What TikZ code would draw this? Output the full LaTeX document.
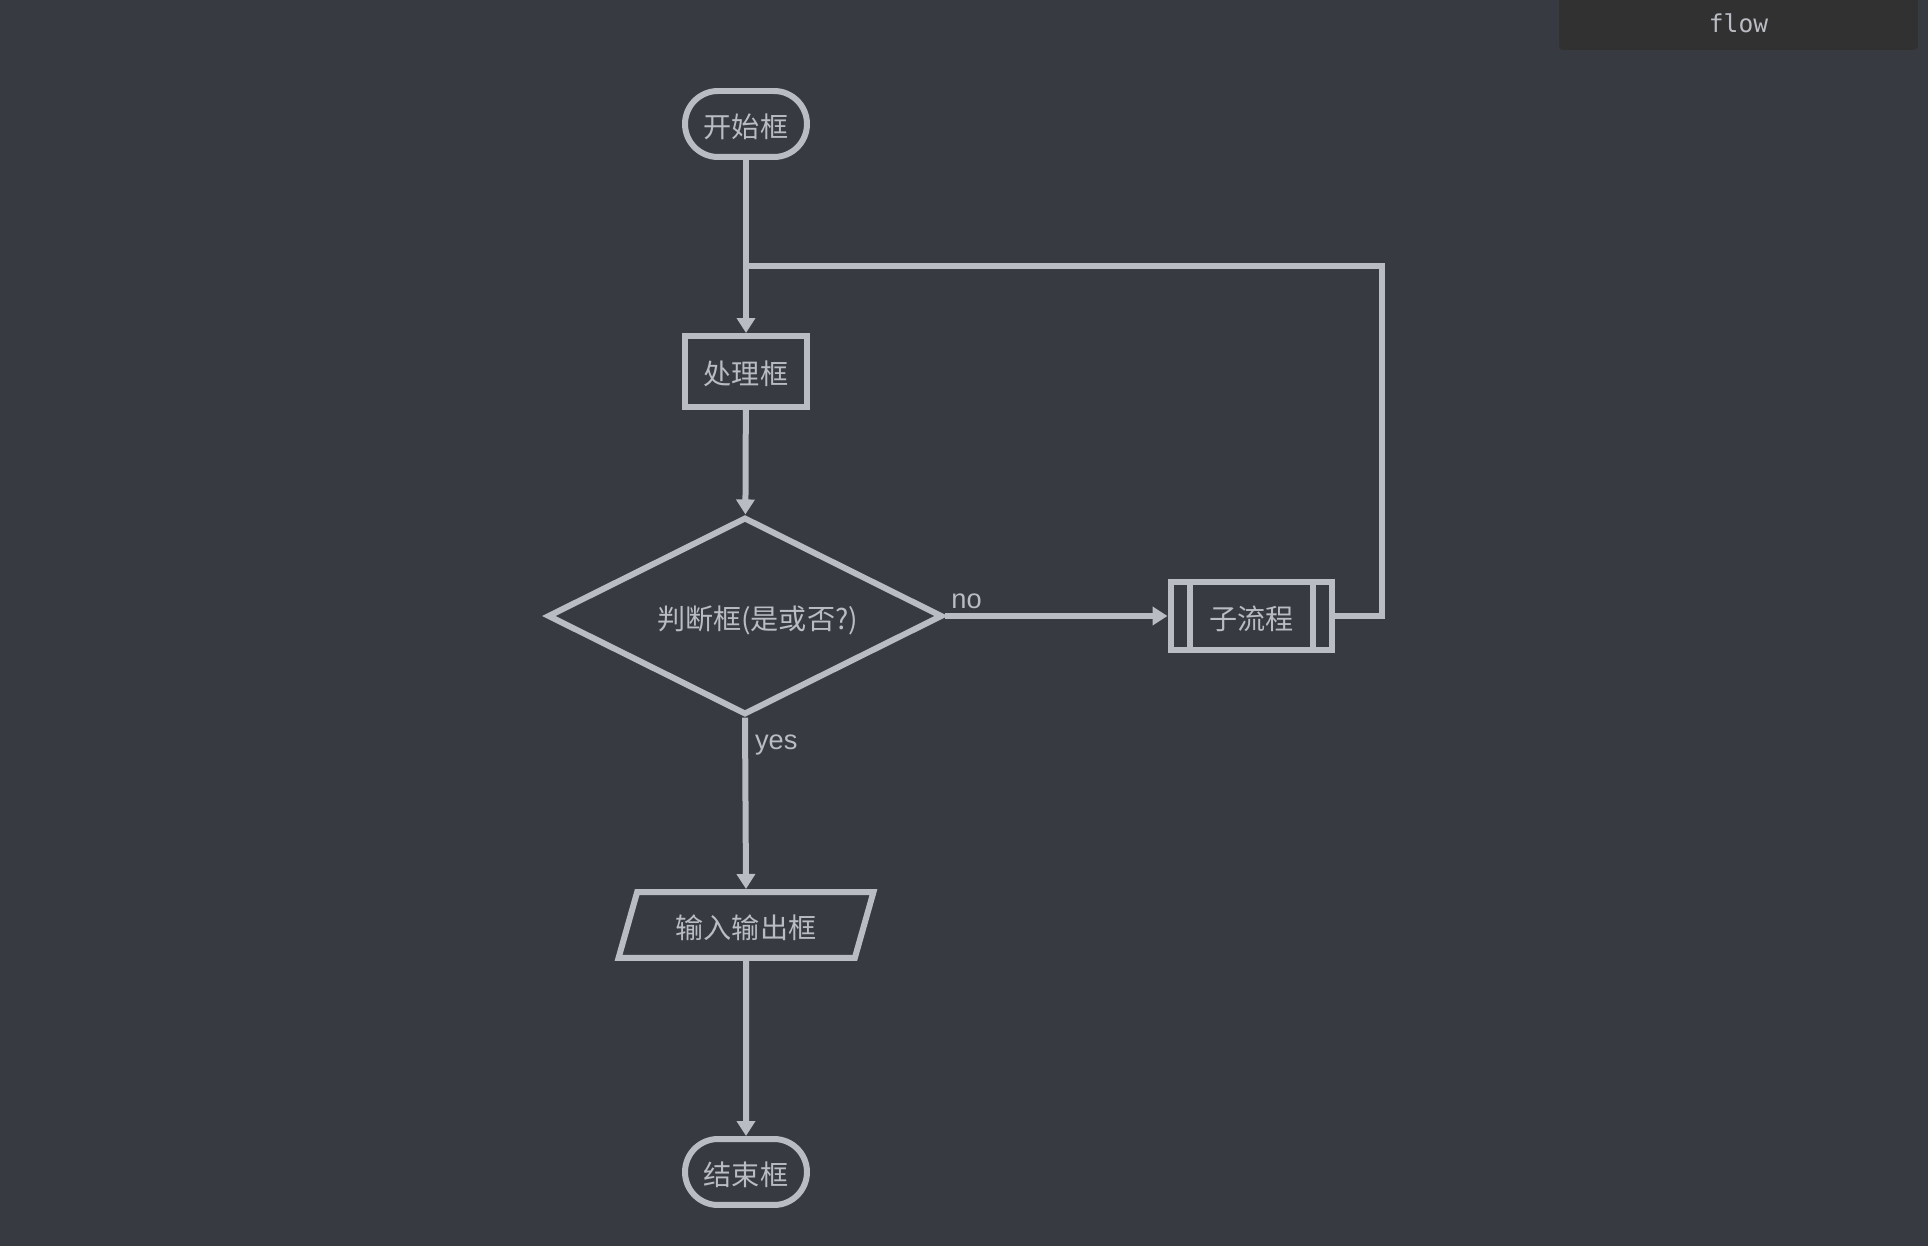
\documentclass[tikz,border=0pt]{standalone}
\usepackage{fontspec}
\setmainfont{Noto Sans CJK SC}
\newfontfamily\labelFont{Liberation Sans}
\newfontfamily\codeFont{DejaVu Sans Mono}
\usetikzlibrary{positioning, shapes.geometric, arrows.meta}
\tikzstyle{diagram} = [x = .02cm, y = -.02cm]
\definecolor{backColor}{HTML}{373A40}
\definecolor{lineColor}{HTML}{B9BCC2}
\definecolor{tagColor}{HTML}{313131}
\tikzstyle{shapeBase} = [draw=lineColor, line width=.12cm, text=lineColor, inner sep=0pt, text height=16pt, text depth=1pt, font=\fontsize{16}{19}\selectfont]
\tikzstyle{terminalStyle} = [shapeBase, rectangle, rounded corners=.66cm, minimum width=2.44cm, minimum height=1.32cm]
\tikzstyle{processStyle} = [shapeBase, rectangle, minimum width=2.44cm, minimum height=1.42cm]
\tikzstyle{decisionStyle} = [shapeBase, diamond, aspect=2.05, minimum width=7.9cm, minimum height=3.95cm]
\tikzstyle{ioStyle} = [shapeBase, trapezium, trapezium left angle=58, trapezium right angle=122, trapezium stretches body, minimum width=5.1cm, minimum height=1.32cm]
\tikzstyle{subStyle} = [shapeBase, rectangle, minimum width=3.24cm, minimum height=1.38cm,
  path picture={
    \draw [lineColor, line width=.12cm] ([xshift=.38cm]path picture bounding box.north west) -- ([xshift=.38cm]path picture bounding box.south west);
    \draw [lineColor, line width=.12cm] ([xshift=-.4cm]path picture bounding box.north east) -- ([xshift=-.4cm]path picture bounding box.south east);
  }]
\tikzstyle{flowLine} = [draw=lineColor, line width=.12cm]
\tikzstyle{flowArrow} = [flowLine, -{Triangle[width=.36cm, length=.3cm]}]
\tikzstyle{edgeLabel} = [text=lineColor, inner sep=0pt, font=\labelFont\fontsize{15.5}{18}\selectfont]
\tikzstyle{tagStyle} = [fill=tagColor, rounded corners=.08cm, text=lineColor, minimum width=7.18cm, minimum height=1.06cm, font=\codeFont\fontsize{14}{17}\selectfont]

\begin{document}
\begin{tikzpicture}[diagram]
  \fill [backColor] (0,0) rectangle (1928,1246);
  \useasboundingbox (0,0) rectangle (1928,1246);
  \node (tag) [tagStyle] at (1738.5,23.5) {flow};
  % main column
  \node (start) [terminalStyle] at (746,124) {开始框};
  \node (process) [processStyle] at (746,371.5) {处理框};
  \node (decision) [decisionStyle] at (745,616) {\hspace*{.5cm}判断框(是或否?)};
  \node (sub) [subStyle] at (1251.5,616) {子流程};
  \node (io) [ioStyle] at (746,925) {输入输出框};
  \node (end) [terminalStyle] at (746,1172) {结束框};
  \coordinate (loopTop) at (1382,266);
  \coordinate (loopJoin) at (746,266);
  % connectors
  \draw [flowArrow] (start) -- (process);
  \draw [flowArrow] (process) -- (decision);
  \draw [flowArrow] (decision.east) -- node [edgeLabel, pos=0, anchor=south west, xshift=.06cm, yshift=.09cm] {no} (sub.west);
  \draw [flowArrow] (decision.south) -- node [edgeLabel, pos=0, anchor=north west, xshift=.14cm, yshift=-.29cm] {yes} (io.north);
  \draw [flowArrow] (io) -- (end);
  \draw [flowLine] (sub.east) -| (loopTop) -- (loopJoin);
\end{tikzpicture}
\end{document}
